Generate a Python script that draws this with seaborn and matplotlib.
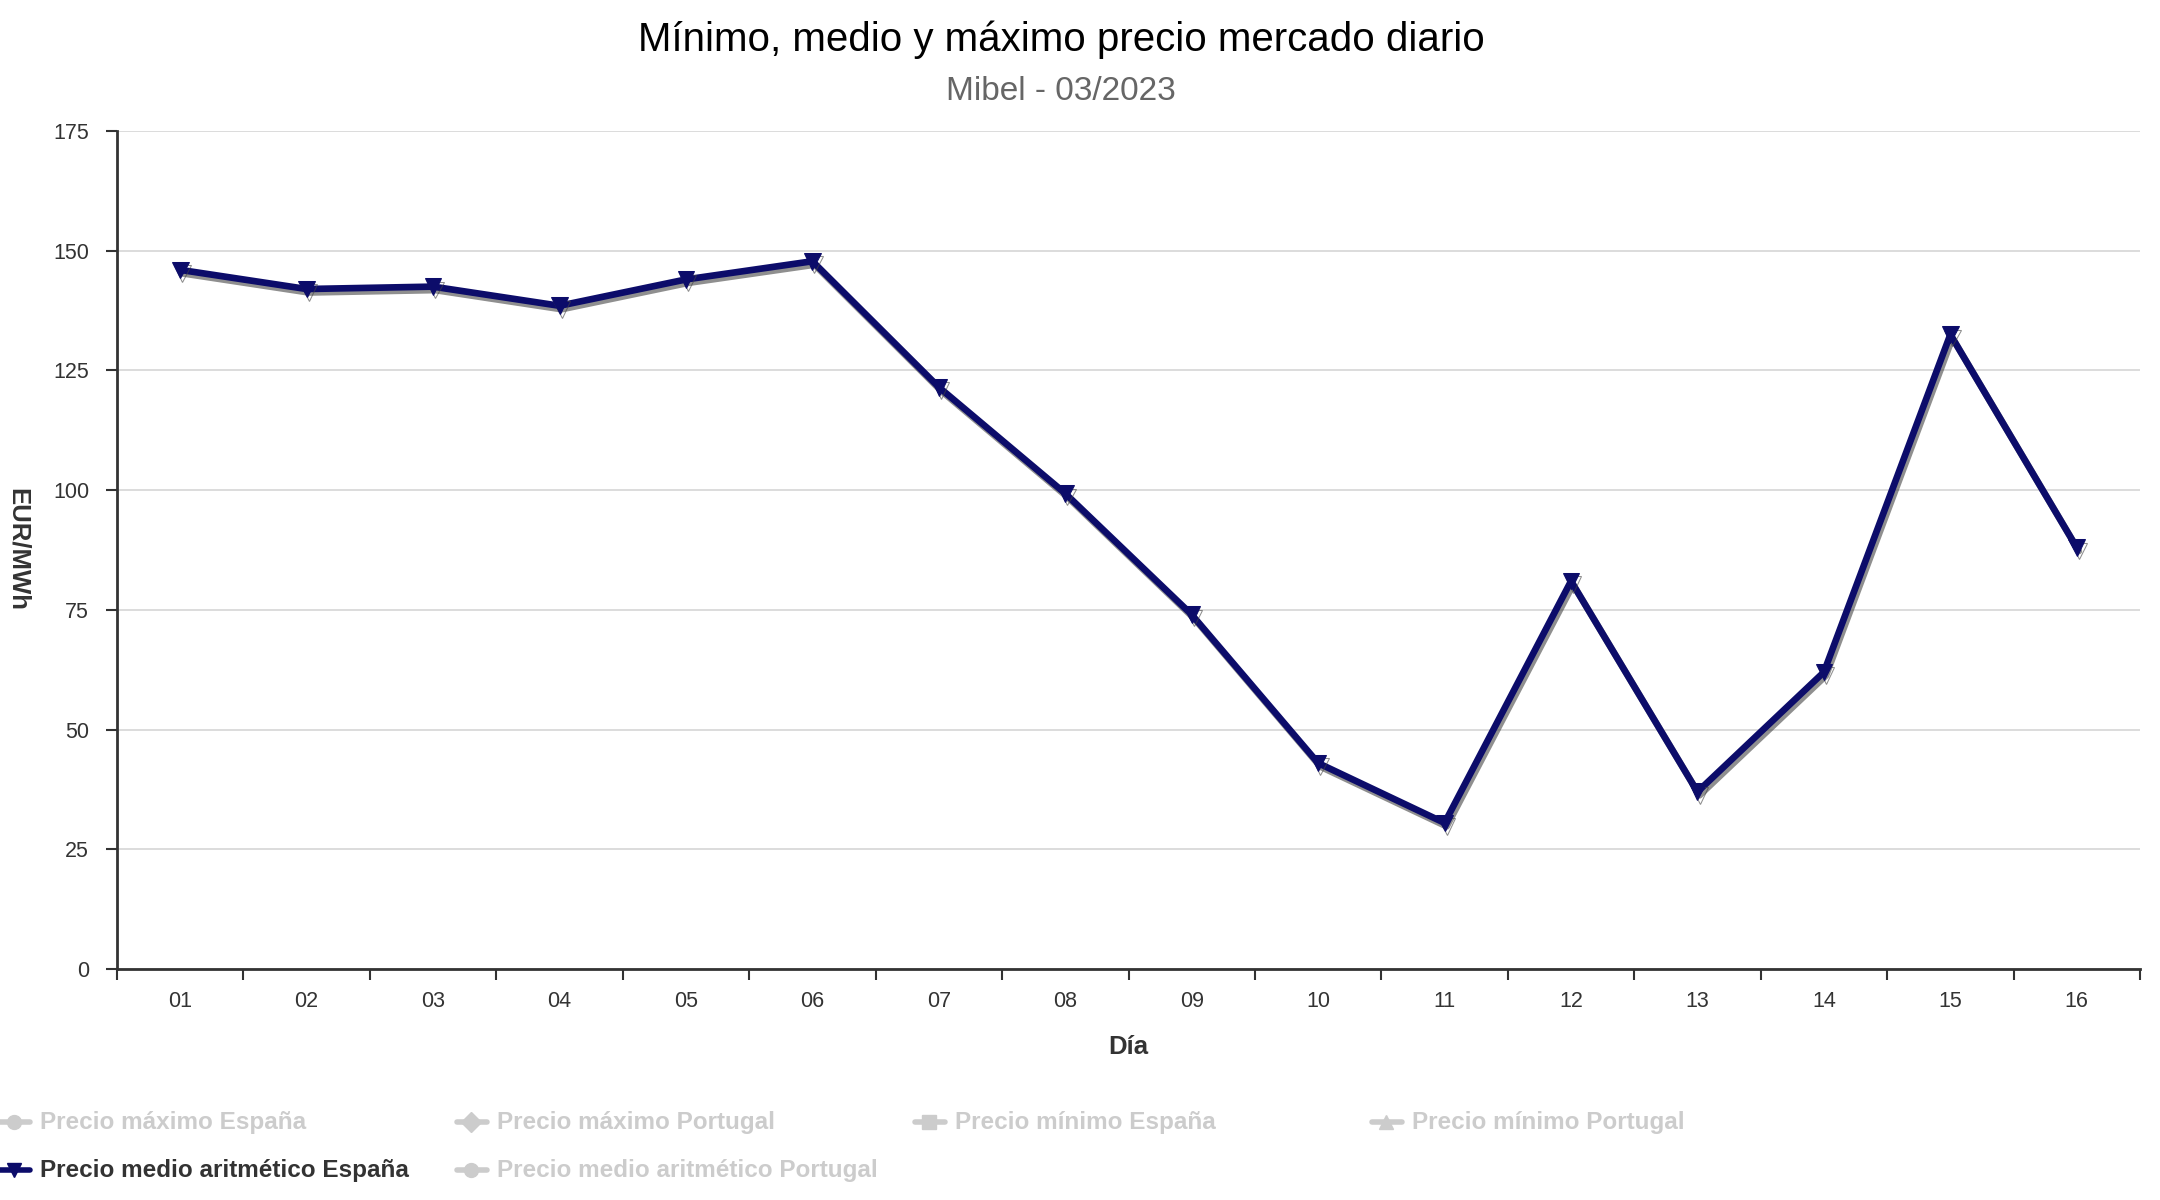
import numpy as np
import matplotlib
matplotlib.use("Agg")
import matplotlib.pyplot as plt
import matplotlib.patheffects as pe
from matplotlib.lines import Line2D
import seaborn as sns
import pandas as pd

# ---- data ----
days = ["01", "02", "03", "04", "05", "06", "07", "08", "09", "10", "11", "12", "13", "14", "15", "16"]
precio_medio_espana = [146.0, 142.0, 142.5, 138.5, 144.0, 147.8, 121.5, 99.3, 74.0, 43.0, 30.5, 81.0, 37.0, 62.0, 132.5, 88.0]
legend_labels = ["Precio máximo España", "Precio máximo Portugal", "Precio mínimo España",
                 "Precio mínimo Portugal", "Precio medio aritmético España", "Precio medio aritmético Portugal"]
y_ticks = [0, 25, 50, 75, 100, 125, 150, 175]

title = "Mínimo, medio y máximo precio mercado diario"
subtitle = "Mibel - 03/2023"

sns.set_theme(style="white")
plt.rcParams['font.family'] = ['Liberation Sans', 'DejaVu Sans']

W, H = 2160, 1200
fig = plt.figure(figsize=(W / 100, H / 100), dpi=100)
ax = fig.add_axes([117 / W, 1 - 969 / H, (2140 - 117) / W, (969 - 131) / H])

navy = "#0c0c6a"
df = pd.DataFrame({"idx": np.arange(len(days)), "value": precio_medio_espana})
sns.lineplot(data=df, x="idx", y="value", ax=ax, color=navy, linewidth=4.8,
             marker="v", markersize=12, markeredgecolor=navy, markerfacecolor=navy,
             zorder=5)
for ln in ax.lines:
    ln.set_path_effects([pe.SimpleLineShadow(offset=(1.5, -2.5), shadow_color="#444444", alpha=0.6),
                         pe.Normal()])

ax.set_xlim(-0.5, len(days) - 0.5)
ax.set_ylim(0, 175)
ax.set_yticks(y_ticks)
ax.set_yticklabels([str(v) for v in y_ticks])
ax.set_xticks(np.arange(len(days)))
ax.set_xticklabels(days)
ax.set_xticks(np.arange(len(days) + 1) - 0.5, minor=True)

ax.tick_params(axis="x", which="major", length=0, pad=16, labelsize=15.5, labelcolor="#333333")
ax.tick_params(axis="x", which="minor", length=8, width=1.5, color="#333333", direction="out", bottom=True)
ax.tick_params(axis="y", which="major", length=8, width=1.5, color="#333333", direction="out",
               pad=12, labelsize=15.5, labelcolor="#333333", left=True)

ax.yaxis.grid(True, color="#d9d9d9", linewidth=1.3)
ax.xaxis.grid(False)
ax.set_axisbelow(True)
for s in ["top", "right"]:
    ax.spines[s].set_visible(False)
for s in ["left", "bottom"]:
    ax.spines[s].set_color("#333333")
    ax.spines[s].set_linewidth(2)

ax.set_xlabel("")
ax.set_ylabel("")
fig.text(1128 / W, 1 - 1047 / H, "Día", ha="center", va="center", fontsize=18.5,
         fontweight="bold", color="#333333")
fig.text(18 / W, 1 - 550 / H, "EUR/MWh", ha="center", va="center", fontsize=18.5,
         fontweight="bold", color="#333333", rotation=-90)

fig.text(1061 / W, 1 - 40 / H, title, ha="center", va="center", fontsize=29, color="#000000")
fig.text(1061 / W, 1 - 92 / H, subtitle, ha="center", va="center", fontsize=24, color="#666666")

# ---- legend (manual layout) ----
markers = ["o", "D", "s", "^", "v", "o"]
col_x = [0, 457, 915, 1372]
rows_y = [1122, 1170]
for i, lab in enumerate(legend_labels):
    r, c = divmod(i, 4)
    xpx, ypx = col_x[c], rows_y[r]
    active = (i == 4)
    col = navy if active else "#cccccc"
    tcol = "#333333" if active else "#cccccc"
    yf = 1 - ypx / H
    fig.add_artist(Line2D([xpx / W, (xpx + 30) / W], [yf, yf], transform=fig.transFigure,
                          color=col, linewidth=4))
    fig.add_artist(Line2D([(xpx + 14) / W], [yf], transform=fig.transFigure, color=col,
                          marker=markers[i], markersize=10, markerfacecolor=col, markeredgecolor=col))
    fig.text((xpx + 40) / W, yf, lab, ha="left", va="center", fontsize=17.5,
             fontweight="bold", color=tcol)

fig.savefig("out.png", dpi=100, facecolor="white")
